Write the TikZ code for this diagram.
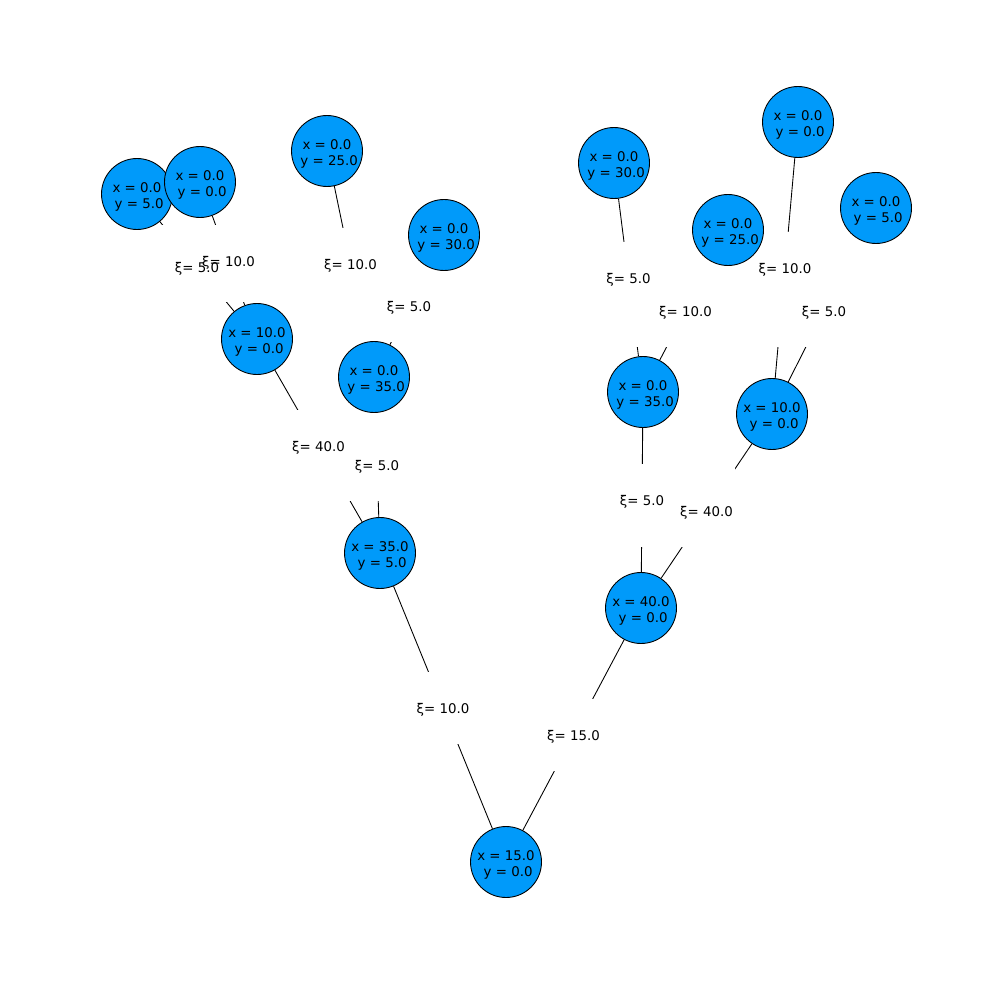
\documentclass[tikz,border=0pt]{standalone}
\usepackage{fontspec}
\setmainfont{DejaVu Sans}
\usetikzlibrary{backgrounds}
\definecolor{nodeblue}{RGB}{0,154,250}
% 節點內兩行文字 (第二行前有一個空格)
\newcommand{\xy}[2]{x = #1\\\hspace*{0.32em}y = #2}

\begin{document}
\begin{tikzpicture}[
    x=0.02cm, y=-0.02cm,
    font=\fontsize{7.6pt}{9.5pt}\selectfont,
    % 節點與標籤樣式
    vtx/.style={circle, draw=black, line width=0.5pt, fill=nodeblue,
        minimum size=1.42cm, inner sep=0pt, label={[vtxtext]center:#1}},
    vtxtext/.style={align=center, inner sep=0pt, yshift=-0.06cm},
    xibox/.style={fill=white, minimum width=3.72cm, minimum height=1.44cm, inner sep=0pt},
    xitext/.style={inner sep=0pt, yshift=-0.04cm},
    edge/.style={line width=0.5pt},
]
    % --- 畫布大小 (999 x 999 px) ---
    \useasboundingbox (0,0) rectangle (999,999);

    % --- 1. 節點 (像素座標, y 向下) ---
    \node[vtx={\xy{15.0}{0.0}}] (R) at (506,862) {};
    \node[vtx={\xy{35.0}{5.0}}] (A) at (380,553) {};
    \node[vtx={\xy{40.0}{0.0}}] (B) at (641,608) {};
    \node[vtx={\xy{10.0}{0.0}}] (C) at (257,339) {};
    \node[vtx={\xy{0.0}{35.0}}] (D) at (374,377) {};
    \node[vtx={\xy{0.0}{5.0}}]  (E) at (137,194) {};
    \node[vtx={\xy{0.0}{0.0}}]  (F) at (200,182) {};
    \node[vtx={\xy{0.0}{25.0}}] (G) at (327,151) {};
    \node[vtx={\xy{0.0}{30.0}}] (H) at (444,235) {};
    \node[vtx={\xy{0.0}{35.0}}] (I) at (643,392) {};
    \node[vtx={\xy{10.0}{0.0}}] (J) at (772,414) {};
    \node[vtx={\xy{0.0}{30.0}}] (K) at (614,163) {};
    \node[vtx={\xy{0.0}{25.0}}] (L) at (728,230) {};
    \node[vtx={\xy{0.0}{0.0}}]  (M) at (798,122) {};
    \node[vtx={\xy{0.0}{5.0}}]  (N) at (876,208) {};

    % --- 2. 邊、白色底框、標籤 (都在節點下面) ---
    \begin{pgfonlayer}{background}
        \foreach \src/\dst/\val in {R/A/10.0, R/B/15.0, A/C/40.0, A/D/5.0,
                C/E/5.0, C/F/10.0, D/G/10.0, D/H/5.0, B/I/5.0, B/J/40.0,
                I/K/5.0, I/L/10.0, J/M/10.0, J/N/5.0}
            \draw[edge] (\src) -- (\dst);
        \foreach \src/\dst/\val in {R/A/10.0, R/B/15.0, A/C/40.0, A/D/5.0,
                C/E/5.0, C/F/10.0, D/G/10.0, D/H/5.0, B/I/5.0, B/J/40.0,
                I/K/5.0, I/L/10.0, J/M/10.0, J/N/5.0}
            \path (\src) -- node[xibox] {} (\dst);
        \foreach \src/\dst/\val in {R/A/10.0, R/B/15.0, A/C/40.0, A/D/5.0,
                C/E/5.0, C/F/10.0, D/G/10.0, D/H/5.0, B/I/5.0, B/J/40.0,
                I/K/5.0, I/L/10.0, J/M/10.0, J/N/5.0}
            \path (\src) -- node[xitext] {ξ= \val} (\dst);
    \end{pgfonlayer}

\end{tikzpicture}
\end{document}
